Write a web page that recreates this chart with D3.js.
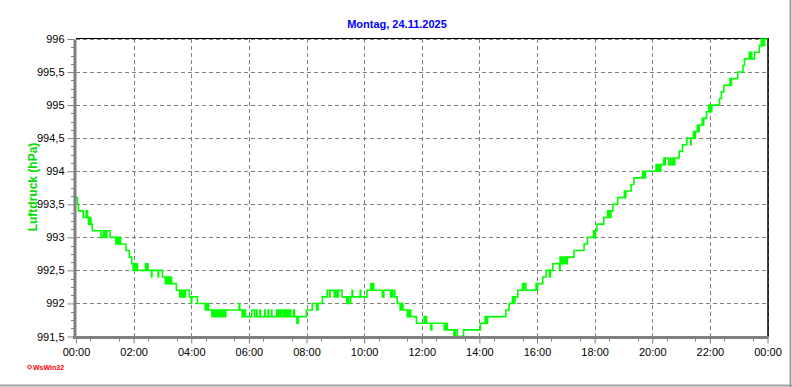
<!DOCTYPE html>
<html>
<head>
<meta charset="utf-8">
<script src="https://cdn.jsdelivr.net/npm/d3@7"></script>
<style>
  body { margin: 0; background: #fff; }
  svg { display: block; font-family: "Liberation Sans", Arial, sans-serif; }
  .grid line { stroke: #808080; stroke-dasharray: 4 3; shape-rendering: crispEdges; }
  .tick text { font-size: 11px; fill: #000; }
</style>
</head>
<body>
<svg width="792" height="387"></svg>
<script>
const title = "Montag, 24.11.2025";
const yLabel = "Luftdruck (hPa)";

// step changes: minutes after midnight / hPa
const stepMinutes = [
  0, 3, 5, 15, 21, 24, 26, 29, 31, 34, 52, 57, 58, 59, 60, 61, 63, 64, 71, 83, 84, 86, 87, 90, 91, 93, 104, 111, 116, 119,
  121, 122, 124, 125, 127, 128, 145, 147, 148, 150, 157, 158, 171, 172, 180, 186, 187, 189, 190, 192, 194, 196, 198, 199, 209, 216, 217, 219, 220, 222, 224, 226, 228, 236,
  240, 241, 253, 269, 270, 272, 274, 276, 283, 285, 287, 290, 292, 294, 296, 298, 300, 303, 305, 308, 310, 312, 340, 341, 346, 347, 349, 351, 353,
  366, 372, 376, 377, 383, 384, 393, 394, 400, 401, 407, 408, 418, 419, 420, 422, 423, 425, 426, 428, 432, 433, 435, 436, 438, 439, 442, 443, 446, 447, 453, 455, 460, 463,
  480, 492, 501, 504, 513, 523, 528, 529, 538, 539, 540, 542, 544, 546, 554, 564, 567, 571, 572, 575, 576, 592, 593,
  606, 614, 616, 617, 620, 638, 641, 655, 656, 658, 660, 664, 669, 675, 676, 678, 679, 681, 690, 691, 693, 694, 697, 709, 725, 726, 728, 730,
  739, 741, 767, 768, 770, 771, 773, 787, 790, 794, 807,
  842, 852, 853, 855, 856, 857, 895, 902, 909, 910, 912, 913, 914, 920, 930, 931, 933, 937, 958, 959, 961,
  962, 972, 979, 986, 988, 993, 1007, 1008, 1009, 1011, 1012, 1014, 1017, 1019, 1021, 1023, 1037, 1058, 1065, 1078, 1080, 1082, 1085,
  1099, 1107, 1110, 1111, 1113, 1114, 1118, 1128, 1142, 1143, 1145, 1156, 1162, 1180, 1181, 1183, 1184, 1186,
  1208, 1209, 1211, 1212, 1215, 1216, 1218, 1224, 1226, 1227, 1234, 1238, 1239, 1243, 1244, 1247, 1256, 1263, 1272, 1280, 1281, 1286, 1288, 1290, 1294, 1296, 1298, 1304, 1305, 1307, 1313, 1318,
  1320, 1321, 1323, 1324, 1340, 1344, 1349, 1362, 1363, 1365, 1378, 1389, 1392, 1402, 1403, 1406, 1407, 1413, 1423, 1427, 1428, 1430, 1431, 1434, 1440
];
const stepHPa = [
  993.6, 993.5, 993.4, 993.3, 993.4, 993.3, 993.2, 993.3, 993.2, 993.1, 993.0, 993.1, 993.0, 993.1, 993.0, 993.1, 993.0, 993.1, 993.0, 992.9, 993.0, 992.9, 993.0, 992.9, 993.0, 992.9, 992.8, 992.7, 992.6, 992.5,
  992.6, 992.5, 992.6, 992.5, 992.6, 992.5, 992.6, 992.5, 992.6, 992.5, 992.4, 992.5, 992.4, 992.5, 992.4, 992.3, 992.4, 992.3, 992.4, 992.3, 992.4, 992.3, 992.4, 992.3, 992.2, 992.1, 992.2, 992.1, 992.2, 992.1, 992.2, 992.1, 992.2, 992.1,
  992.0, 992.1, 992.0, 991.9, 992.0, 991.9, 992.0, 991.9, 991.8, 991.9, 991.8, 991.9, 991.8, 991.9, 991.8, 991.9, 991.8, 991.9, 991.8, 991.9, 991.8, 991.9, 992.0, 991.9, 991.8, 991.9, 991.8, 991.9, 991.8,
  991.9, 991.8, 991.9, 991.8, 991.9, 991.8, 991.9, 991.8, 991.9, 991.8, 991.9, 991.8, 991.9, 991.8, 991.9, 991.8, 991.9, 991.8, 991.9, 991.8, 991.9, 991.8, 991.9, 991.8, 991.9, 991.8, 991.9, 991.8, 991.9, 991.8, 991.9, 991.8, 991.7, 991.8,
  991.9, 992.0, 991.9, 992.0, 992.1, 992.2, 992.1, 992.2, 992.1, 992.2, 992.1, 992.2, 992.1, 992.2, 992.1, 992.0, 992.1, 992.0, 992.1, 992.2, 992.1, 992.2, 992.1,
  992.2, 992.3, 992.2, 992.3, 992.2, 992.1, 992.2, 992.1, 992.2, 992.1, 992.2, 992.1, 992.0, 991.9, 992.0, 991.9, 992.0, 991.9, 991.8, 991.9, 991.8, 991.9, 991.8, 991.7, 991.8, 991.7, 991.8, 991.7,
  991.6, 991.7, 991.6, 991.7, 991.6, 991.7, 991.6, 991.5, 991.6, 991.5, 991.6,
  991.7, 991.8, 991.7, 991.8, 991.7, 991.8, 991.9, 992.0, 992.1, 992.0, 992.1, 992.0, 992.1, 992.2, 992.3, 992.2, 992.3, 992.2, 992.3, 992.2, 992.3,
  992.3, 992.4, 992.5, 992.4, 992.5, 992.6, 992.5, 992.7, 992.6, 992.7, 992.6, 992.7, 992.6, 992.7, 992.6, 992.7, 992.8, 992.9, 993.0, 993.1, 993.0, 993.1, 993.2,
  993.3, 993.4, 993.3, 993.4, 993.3, 993.4, 993.5, 993.6, 993.7, 993.6, 993.7, 993.8, 993.9, 994.0, 993.9, 994.0, 993.9, 994.0,
  994.1, 994.0, 994.1, 994.0, 994.1, 994.0, 994.1, 994.2, 994.1, 994.2, 994.1, 994.2, 994.1, 994.2, 994.1, 994.2, 994.3, 994.4, 994.5, 994.4, 994.5, 994.6, 994.5, 994.6, 994.7, 994.6, 994.7, 994.8, 994.7, 994.8, 994.9, 995.0,
  994.9, 995.0, 994.9, 995.0, 995.1, 995.2, 995.3, 995.4, 995.3, 995.4, 995.5, 995.6, 995.7, 995.8, 995.7, 995.8, 995.7, 995.8, 995.9, 996.0, 995.9, 996.0, 995.9, 996.0, 996.0
];

const yTicks = [991.5, 992, 992.5, 993, 993.5, 994, 994.5, 995, 995.5, 996];
const xTicks = [0, 120, 240, 360, 480, 600, 720, 840, 960, 1080, 1200, 1320, 1440];
const xTickLabels = ["00:00", "02:00", "04:00", "06:00", "08:00", "10:00", "12:00", "14:00", "16:00", "18:00", "20:00", "22:00", "00:00"];

const data = stepMinutes.map((m, i) => ({ m: m, v: stepHPa[i] }));

const svg = d3.select("svg");
const plotLeft = 76, plotRight = 767.5, plotTop = 39, plotBottom = 336.5;

const x = d3.scaleLinear().domain([0, 1440]).range([plotLeft, plotRight]);
const y = d3.scaleLinear().domain([991.5, 996]).range([plotBottom, plotTop]);

const de = d3.formatLocale({ decimal: ",", thousands: ".", grouping: [3], currency: ["", " €"] });
const fmt = de.format("~f");

// outer frame
svg.append("line").attr("x1", 790.5).attr("x2", 790.5).attr("y1", 0).attr("y2", 387)
  .attr("stroke", "#a0a0a0").attr("stroke-width", 2);
svg.append("line").attr("x1", 0).attr("x2", 792).attr("y1", 385.5).attr("y2", 385.5)
  .attr("stroke", "#a0a0a0").attr("stroke-width", 2);

// grid
const grid = svg.append("g").attr("class", "grid");
grid.selectAll("line.h")
  .data(yTicks.filter(d => d > 991.5))
  .enter()
  .append("line")
  .attr("class", "h")
  .attr("x1", plotLeft).attr("x2", plotRight)
  .attr("y1", d => Math.round(y(d)) + 0.5)
  .attr("y2", d => Math.round(y(d)) + 0.5);
grid.selectAll("line.v")
  .data(xTicks.filter(d => d > 0))
  .enter()
  .append("line")
  .attr("class", "v")
  .attr("x1", d => Math.round(x(d)) + 0.5)
  .attr("x2", d => Math.round(x(d)) + 0.5)
  .attr("y1", plotTop).attr("y2", plotBottom);

// top and right border
svg.append("line").attr("x1", plotLeft).attr("x2", plotRight + 1).attr("y1", plotTop - 0.5).attr("y2", plotTop - 0.5)
  .attr("stroke", "#000").attr("stroke-width", 1);
svg.append("line").attr("x1", plotRight + 0.5).attr("x2", plotRight + 0.5).attr("y1", plotTop - 1).attr("y2", plotBottom)
  .attr("stroke", "#000").attr("stroke-width", 1.5);

// pressure line
const line = d3.line()
  .x(d => x(d.m))
  .y(d => y(d.v))
  .curve(d3.curveStepAfter);

svg.append("path")
  .datum(data)
  .attr("d", line)
  .attr("fill", "none")
  .attr("stroke", "#00ff00")
  .attr("stroke-width", 1.6);

// y axis
const axisY = d3.axisLeft(y)
  .tickValues(yTicks)
  .tickSizeInner(7)
  .tickSizeOuter(0)
  .tickPadding(3)
  .tickFormat(fmt);
const gY = svg.append("g").attr("transform", `translate(${plotLeft - 1.5},0)`).call(axisY);
gY.select(".domain").attr("stroke", "#808080").attr("stroke-width", 3);
gY.selectAll(".tick line").attr("stroke", "#808080");

const minorY = d3.range(0, 37).map(i => 991.5 + i * 0.125).filter(v => !yTicks.includes(v));
svg.append("g").selectAll("line")
  .data(minorY)
  .enter()
  .append("line")
  .attr("x1", plotLeft - 5).attr("x2", plotLeft - 2)
  .attr("y1", d => Math.round(y(d)) + 0.5)
  .attr("y2", d => Math.round(y(d)) + 0.5)
  .attr("stroke", "#808080");

// x axis
const axisX = d3.axisBottom(x)
  .tickValues(xTicks)
  .tickSizeInner(6)
  .tickSizeOuter(0)
  .tickPadding(5)
  .tickFormat((d, i) => xTickLabels[i]);
const gX = svg.append("g").attr("transform", `translate(0,${plotBottom + 1})`).call(axisX);
gX.select(".domain").attr("stroke", "#808080").attr("stroke-width", 3);
gX.selectAll(".tick line").attr("stroke", "#808080");
gX.select(".domain").attr("d", `M${plotLeft - 3},0H${plotRight + 1}`);

const minorX = d3.range(30, 1440, 60);
svg.append("g").selectAll("line")
  .data(minorX)
  .enter()
  .append("line")
  .attr("x1", d => Math.round(x(d)) + 0.5)
  .attr("x2", d => Math.round(x(d)) + 0.5)
  .attr("y1", plotBottom + 2).attr("y2", plotBottom + 5)
  .attr("stroke", "#808080");

// title and axis label
svg.append("text")
  .attr("x", 397).attr("y", 28)
  .attr("text-anchor", "middle")
  .attr("font-size", 11).attr("font-weight", "bold")
  .attr("fill", "#0000ff")
  .text(title);

svg.append("text")
  .attr("transform", "translate(36.5,187) rotate(-90)")
  .attr("text-anchor", "middle")
  .attr("font-size", 12).attr("font-weight", "bold")
  .attr("fill", "#00dd00")
  .text(yLabel);

// WsWin32 mark
svg.append("circle").attr("cx", 29.5).attr("cy", 367).attr("r", 1.8)
  .attr("fill", "none").attr("stroke", "#ff0000").attr("stroke-width", 1);
svg.append("text")
  .attr("x", 33).attr("y", 370)
  .attr("font-size", 7).attr("font-weight", "bold")
  .attr("fill", "#ff0000")
  .text("WsWin32");
</script>
</body>
</html>
